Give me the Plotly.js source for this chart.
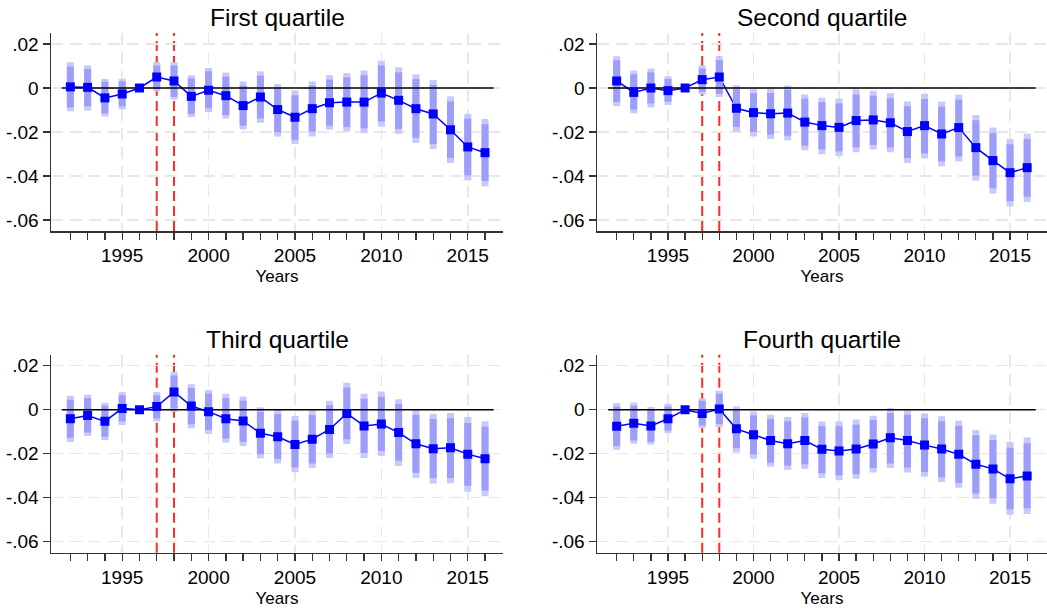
<!DOCTYPE html>
<html>
<head>
<meta charset="utf-8">
<script src="https://cdn.plot.ly/plotly-3.0.1.min.js"></script>
<style>html,body{margin:0;padding:0;background:#fff;}#chart{width:1047px;height:610px;}</style>
</head>
<body>
<div id="chart"></div>
<script>
const years = [1992,1993,1994,1995,1996,1997,1998,1999,2000,2001,2002,2003,2004,2005,2006,2007,2008,2009,2010,2011,2012,2013,2014,2015,2016];
const labelYears = [1995,2000,2005,2010,2015];
const yTickVals = [0.02,0,-0.02,-0.04,-0.06];
const yTickText = [".02","0","-.02","-.04","-.06"];
const refLines = [1997,1998];
const titles = ["First quartile","Second quartile","Third quartile","Fourth quartile"];

// First quartile
const q1_est  = [0.0005,0.0003,-0.0045,-0.0027,0,0.0050,0.0032,-0.0038,-0.0010,-0.0035,-0.0080,-0.0041,-0.0098,-0.0133,-0.0094,-0.0067,-0.0064,-0.0064,-0.0023,-0.0056,-0.0094,-0.0118,-0.0190,-0.0268,-0.0294];
const q1_lo95 = [-0.0106,-0.0102,-0.0130,-0.0097,0,-0.0015,-0.0053,-0.0132,-0.0110,-0.0139,-0.0188,-0.0158,-0.0221,-0.0255,-0.0220,-0.0189,-0.0197,-0.0205,-0.0176,-0.0208,-0.0250,-0.0277,-0.0341,-0.0420,-0.0447];
const q1_hi95 = [0.0117,0.0103,0.0041,0.0042,0,0.0117,0.0117,0.0058,0.0091,0.0070,0.0030,0.0076,0.0018,-0.0011,0.0030,0.0058,0.0068,0.0079,0.0124,0.0094,0.0062,0.0036,-0.0038,-0.0117,-0.0141];
const q1_lo90 = [-0.0088,-0.0083,-0.0115,-0.0083,0,-0.0005,-0.0040,-0.0118,-0.0092,-0.0123,-0.0171,-0.0138,-0.0201,-0.0235,-0.0198,-0.0171,-0.0177,-0.0183,-0.0152,-0.0186,-0.0226,-0.0255,-0.0318,-0.0397,-0.0423];
const q1_hi90 = [0.0098,0.0086,0.0029,0.0030,0,0.0102,0.0102,0.0044,0.0076,0.0052,0.0011,0.0056,0.0002,-0.0033,0.0011,0.0038,0.0048,0.0058,0.0102,0.0071,0.0041,0.0014,-0.0061,-0.0139,-0.0165];

// Second quartile
const q2_est  = [0.0032,-0.0020,0,-0.0012,0,0.0038,0.0050,-0.0092,-0.0112,-0.0117,-0.0114,-0.0155,-0.0171,-0.0179,-0.0148,-0.0145,-0.0158,-0.0198,-0.0171,-0.0209,-0.0180,-0.0271,-0.0330,-0.0385,-0.0362];
const q2_lo95 = [-0.0083,-0.0115,-0.0088,-0.0077,0,-0.0030,-0.0041,-0.0198,-0.0220,-0.0232,-0.0238,-0.0283,-0.0301,-0.0309,-0.0292,-0.0280,-0.0292,-0.0341,-0.0320,-0.0356,-0.0333,-0.0421,-0.0480,-0.0538,-0.0518];
const q2_hi95 = [0.0144,0.0079,0.0088,0.0053,0,0.0103,0.0144,0.0012,-0.0005,-0.0005,0.0011,-0.0029,-0.0044,-0.0048,-0.0006,-0.0012,-0.0024,-0.0061,-0.0026,-0.0062,-0.0030,-0.0123,-0.0180,-0.0232,-0.0208];
const q2_lo90 = [-0.0064,-0.0098,-0.0070,-0.0062,0,-0.0017,-0.0026,-0.0177,-0.0200,-0.0212,-0.0217,-0.0262,-0.0279,-0.0288,-0.0270,-0.0259,-0.0270,-0.0318,-0.0297,-0.0333,-0.0311,-0.0398,-0.0456,-0.0514,-0.0494];
const q2_hi90 = [0.0126,0.0062,0.0071,0.0041,0,0.0088,0.0127,-0.0005,-0.0024,-0.0023,-0.0008,-0.0048,-0.0064,-0.0070,-0.0030,-0.0035,-0.0047,-0.0083,-0.0050,-0.0085,-0.0053,-0.0147,-0.0205,-0.0256,-0.0232];

// Third quartile
const q3_est  = [-0.0041,-0.0026,-0.0053,0.0006,0,0.0014,0.0081,0.0017,-0.0009,-0.0041,-0.0051,-0.0107,-0.0123,-0.0158,-0.0134,-0.0090,-0.0017,-0.0074,-0.0065,-0.0104,-0.0155,-0.0177,-0.0173,-0.0202,-0.0223];
const q3_lo95 = [-0.0147,-0.0120,-0.0138,-0.0069,0,-0.0053,-0.0009,-0.0084,-0.0110,-0.0150,-0.0165,-0.0221,-0.0244,-0.0284,-0.0265,-0.0220,-0.0156,-0.0220,-0.0211,-0.0256,-0.0311,-0.0335,-0.0334,-0.0373,-0.0393];
const q3_hi95 = [0.0063,0.0068,0.0032,0.0081,0,0.0080,0.0171,0.0116,0.0090,0.0072,0.0060,0.0011,0.0002,-0.0029,-0.0003,0.0041,0.0123,0.0072,0.0083,0.0048,0.0000,-0.0018,-0.0015,-0.0033,-0.0053];
const q3_lo90 = [-0.0128,-0.0104,-0.0123,-0.0054,0,-0.0039,0.0006,-0.0066,-0.0092,-0.0131,-0.0146,-0.0202,-0.0223,-0.0263,-0.0244,-0.0199,-0.0134,-0.0197,-0.0188,-0.0232,-0.0287,-0.0311,-0.0310,-0.0346,-0.0367];
const q3_hi90 = [0.0045,0.0053,0.0018,0.0066,0,0.0066,0.0155,0.0099,0.0074,0.0053,0.0041,-0.0009,-0.0020,-0.0050,-0.0024,0.0020,0.0101,0.0050,0.0059,0.0026,-0.0023,-0.0042,-0.0039,-0.0060,-0.0078];

// Fourth quartile
const q4_est  = [-0.0075,-0.0062,-0.0074,-0.0041,0,-0.0017,0.0003,-0.0087,-0.0114,-0.0140,-0.0155,-0.0140,-0.0180,-0.0188,-0.0179,-0.0156,-0.0128,-0.0140,-0.0161,-0.0179,-0.0203,-0.0248,-0.0269,-0.0314,-0.0301];
const q4_lo95 = [-0.0182,-0.0155,-0.0158,-0.0107,0,-0.0084,-0.0080,-0.0194,-0.0223,-0.0259,-0.0274,-0.0269,-0.0310,-0.0320,-0.0314,-0.0286,-0.0265,-0.0286,-0.0305,-0.0329,-0.0355,-0.0406,-0.0427,-0.0478,-0.0474];
const q4_hi95 = [0.0030,0.0033,0.0012,0.0027,0,0.0051,0.0086,0.0015,-0.0008,-0.0023,-0.0033,-0.0015,-0.0054,-0.0054,-0.0045,-0.0027,0.0008,0.0000,-0.0017,-0.0030,-0.0050,-0.0092,-0.0113,-0.0147,-0.0126];
const q4_lo90 = [-0.0165,-0.0140,-0.0146,-0.0095,0,-0.0072,-0.0065,-0.0174,-0.0203,-0.0241,-0.0254,-0.0248,-0.0289,-0.0298,-0.0292,-0.0265,-0.0244,-0.0263,-0.0283,-0.0307,-0.0332,-0.0381,-0.0402,-0.0453,-0.0448];
const q4_hi90 = [0.0014,0.0018,0.0000,0.0014,0,0.0041,0.0072,-0.0003,-0.0026,-0.0042,-0.0053,-0.0035,-0.0075,-0.0075,-0.0068,-0.0047,-0.0015,-0.0023,-0.0039,-0.0053,-0.0074,-0.0116,-0.0138,-0.0173,-0.0153];

const panels = [
  {est:q1_est, lo95:q1_lo95, hi95:q1_hi95, lo90:q1_lo90, hi90:q1_hi90},
  {est:q2_est, lo95:q2_lo95, hi95:q2_hi95, lo90:q2_lo90, hi90:q2_hi90},
  {est:q3_est, lo95:q3_lo95, hi95:q3_hi95, lo90:q3_lo90, hi90:q3_hi90},
  {est:q4_est, lo95:q4_lo95, hi95:q4_hi95, lo90:q4_lo90, hi90:q4_hi90}
];

const W = 1047, H = 610;
// pixel geometry of each plot area: [left, right, top, bottom]
const boxes = [[51,503,33,231],[597,1047,33,231],[51,503,354.7,552.7],[597,1047,354.7,552.7]];
const xRanges = [[1990.88,2017.04],[1990.85,2017.16],[1990.88,2017.04],[1990.85,2017.16]];

const FONT = "Arial, 'Liberation Sans', sans-serif";
const BLUE = "#0000ff";
const C95 = "#c8c8fb";
const C90 = "#9d9dfa";

function segs(lo, hi) {
  const x = [], y = [];
  years.forEach((yr, i) => { x.push(yr, yr, null); y.push(lo[i], hi[i], null); });
  return {x, y};
}

const data = [];
const layout = {
  width: W, height: H,
  margin: {l:0, r:0, t:0, b:0},
  paper_bgcolor: "#fff", plot_bgcolor: "#fff",
  showlegend: false,
  font: {family: FONT, color: "#000"},
  shapes: [], annotations: []
};

panels.forEach((p, k) => {
  const n = k === 0 ? "" : String(k + 1);
  const xa = "x" + n, ya = "y" + n;
  const [l, r, t, b] = boxes[k];
  data.push({type:"scatter", mode:"lines", x:years, y:p.est, xaxis:xa, yaxis:ya,
    line:{color:BLUE, width:1.5}, hoverinfo:"skip"});
  const s95 = segs(p.lo95, p.hi95);
  data.push({type:"scatter", mode:"lines", x:s95.x, y:s95.y, xaxis:xa, yaxis:ya,
    line:{color:C95, width:7}, connectgaps:false, hoverinfo:"skip"});
  const s90 = segs(p.lo90, p.hi90);
  data.push({type:"scatter", mode:"lines", x:s90.x, y:s90.y, xaxis:xa, yaxis:ya,
    line:{color:C90, width:7}, connectgaps:false, hoverinfo:"skip"});
  // zero reference line
  data.push({type:"scatter", mode:"lines", x:[years[0]-0.5, years[years.length-1]+0.5], y:[0,0],
    xaxis:xa, yaxis:ya, line:{color:"#000", width:1.5}, hoverinfo:"skip"});
  data.push({type:"scatter", mode:"markers", x:years, y:p.est, xaxis:xa, yaxis:ya,
    marker:{symbol:"square", size:9, color:BLUE}});

  layout["xaxis" + n] = {
    domain:[l/W, r/W], anchor:ya, range:xRanges[k],
    tickmode:"array", tickvals:labelYears, ticktext:labelYears.map(String),
    ticks:"outside", ticklen:7, tickwidth:1.3, tickcolor:"#333",
    tickfont:{size:19, family:FONT, color:"#000"},
    showline:true, linecolor:"#333", linewidth:1.5, zeroline:false,
    showgrid:true, gridcolor:"#e8e8e8", gridwidth:1.5, griddash:"12px,7px",
    minor:{tickmode:"array", tickvals:years, ticks:"outside", ticklen:7, tickwidth:1.3, tickcolor:"#333", showgrid:false},
    title:{text:"Years", font:{size:17, family:FONT, color:"#000"}, standoff:5},
    fixedrange:true
  };
  layout["yaxis" + n] = {
    domain:[1 - b/H, 1 - t/H], anchor:xa, range:[-0.065, 0.025],
    tickmode:"array", tickvals:yTickVals, ticktext:yTickText,
    ticks:"outside", ticklen:7, tickwidth:1.3, tickcolor:"#333",
    tickfont:{size:19, family:FONT, color:"#000"},
    showline:true, linecolor:"#333", linewidth:1.5, zeroline:false,
    showgrid:true, gridcolor:"#e8e8e8", gridwidth:1.5, griddash:"12px,7px",
    fixedrange:true
  };
  refLines.forEach(v => {
    layout.shapes.push({type:"line", xref:xa, yref:ya + " domain", x0:v, x1:v, y0:0, y1:1,
      layer:"below", line:{color:"#ff2a2a", width:2, dash:"10px,5px"}});
  });
  layout.annotations.push({text:titles[k], xref:"paper", yref:"paper",
    x:(l + r) / 2 / W, y:1 - (t - 15.5) / H, xanchor:"center", yanchor:"middle",
    showarrow:false, font:{size:24.5, family:FONT, color:"#000"}});
});

Plotly.newPlot("chart", data, layout, {displayModeBar:false, staticPlot:true});
</script>
</body>
</html>
